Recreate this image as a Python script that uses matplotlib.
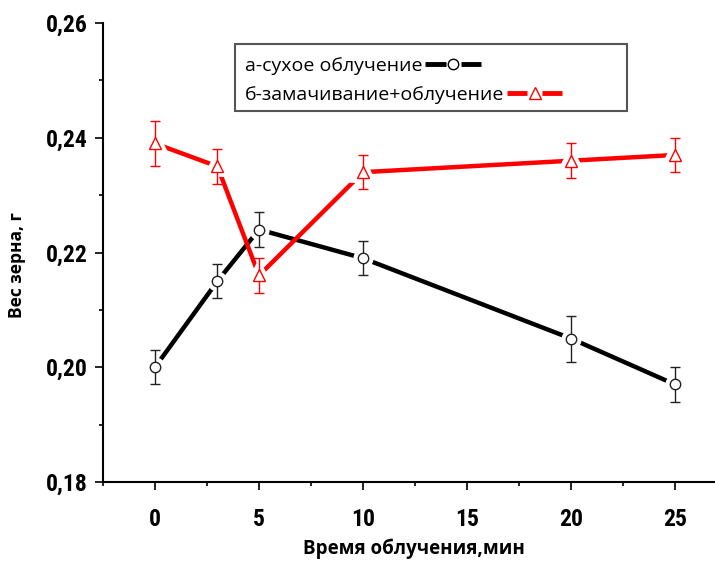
import matplotlib
matplotlib.use("Agg")
import matplotlib.pyplot as plt
from matplotlib.ticker import MultipleLocator, FixedLocator
from matplotlib.lines import Line2D
from matplotlib.patches import Rectangle

# ---- data ----
x_vals = [0, 3, 5, 10, 20, 25]
dry_vals = [0.200, 0.215, 0.224, 0.219, 0.205, 0.197]
dry_err = [0.003, 0.003, 0.003, 0.003, 0.004, 0.003]
soak_vals = [0.239, 0.235, 0.216, 0.234, 0.236, 0.237]
soak_err = [0.004, 0.003, 0.003, 0.003, 0.003, 0.003]
x_ticks = [0, 5, 10, 15, 20, 25]
y_ticks = [0.18, 0.20, 0.22, 0.24, 0.26]
y_tick_labels = ["0,18", "0,20", "0,22", "0,24", "0,26"]
label_dry = "а-сухое облучение"
label_soak = "б-замачивание+облучение"
xlabel = "Время облучения,мин"
ylabel = "Вес зерна, г"

tick_font = "Roboto Condensed"
text_font = "Open Sans"

W, H = 715, 563
fig = plt.figure(figsize=(W / 100, H / 100), dpi=100)
ax = fig.add_axes([103 / W, 1 - 482 / H, 1 - 103 / W, (482 - 23) / H])

RED = "#ff0000"
DARK = "#222222"

def draw(xv, yv, ev, color, ecolor, marker, ms):
    ax.plot(xv, yv, color=color, lw=3.2, zorder=2, solid_capstyle="butt")
    ax.plot(xv, yv, ls="none", marker=marker, ms=ms, mfc="white",
            mec="white", mew=7, zorder=3)
    ax.errorbar(xv, yv, yerr=ev, fmt="none", ecolor=ecolor, elinewidth=1.0,
                capsize=3.3, capthick=1.0, zorder=4)
    ax.plot(xv, yv, ls="none", marker=marker, ms=ms, mfc="white",
            mec=ecolor, mew=1.0, zorder=5)

draw(x_vals, dry_vals, dry_err, "black", DARK, "o", 7.5)
draw(x_vals, soak_vals, soak_err, RED, RED, "^", 8.5)

ax.set_xlim(-2.5, 26.92)
ax.set_ylim(0.18, 0.26)
ax.xaxis.set_major_locator(FixedLocator(x_ticks))
ax.xaxis.set_minor_locator(MultipleLocator(2.5))
ax.yaxis.set_major_locator(FixedLocator(y_ticks))
ax.set_yticklabels(y_tick_labels)
ax.yaxis.set_minor_locator(MultipleLocator(0.01))

for s in ["top", "right"]:
    ax.spines[s].set_visible(False)
for s in ["left", "bottom"]:
    ax.spines[s].set_linewidth(1.5)

ax.tick_params(which="major", direction="out", length=6, width=1.2, pad=5)
ax.tick_params(which="minor", direction="out", length=3, width=1.2)
for lab in ax.get_xticklabels() + ax.get_yticklabels():
    lab.set_fontfamily(tick_font)
    lab.set_fontweight("bold")
    lab.set_fontsize(17)
ax.tick_params(axis="x", which="major", pad=13)

fig.text(414 / W, 1 - 549 / H, xlabel, fontfamily=text_font, fontweight="bold",
         fontsize=13.5, ha="center", va="center")
fig.text(17 / W, 1 - 265 / H, ylabel, fontfamily=text_font, fontweight="bold",
         fontsize=12.5, ha="center", va="center", rotation=90)

# ---- legend (text followed by line/marker sample) ----
fig.patches.append(Rectangle((235 / W, 1 - 111 / H), (627 - 235) / W, (111 - 44) / H,
                             transform=fig.transFigure, fill=True, facecolor="white",
                             edgecolor="#555555", lw=1.5, zorder=10))
rows = [(label_dry, "black", "black", "o", 7.5, 66),
        (label_soak, RED, RED, "^", 8.5, 95)]
fig.canvas.draw()
renderer = fig.canvas.get_renderer()
for lab, col, mcol, mk, ms, yc in rows:
    t = fig.text(245 / W, 1 - yc / H, lab, fontfamily=text_font, fontsize=14,
                 ha="left", va="center", zorder=11)
    bb = t.get_window_extent(renderer)
    x0 = bb.x1 + 3
    yy = H - yc + 2
    seg = 20
    for a, b in [(x0, x0 + seg), (x0 + seg + 15, x0 + 2 * seg + 15)]:
        fig.lines.append(Line2D([a / W, b / W], [yy / H, yy / H], color=col, lw=3.5,
                                transform=fig.transFigure, zorder=11,
                                solid_capstyle="butt"))
    fig.lines.append(Line2D([(x0 + seg + 7.5) / W], [yy / H], ls="none", marker=mk,
                            ms=ms, mfc="white", mec=mcol, mew=1.0,
                            transform=fig.transFigure, zorder=12))

fig.savefig("out.png", dpi=100)
